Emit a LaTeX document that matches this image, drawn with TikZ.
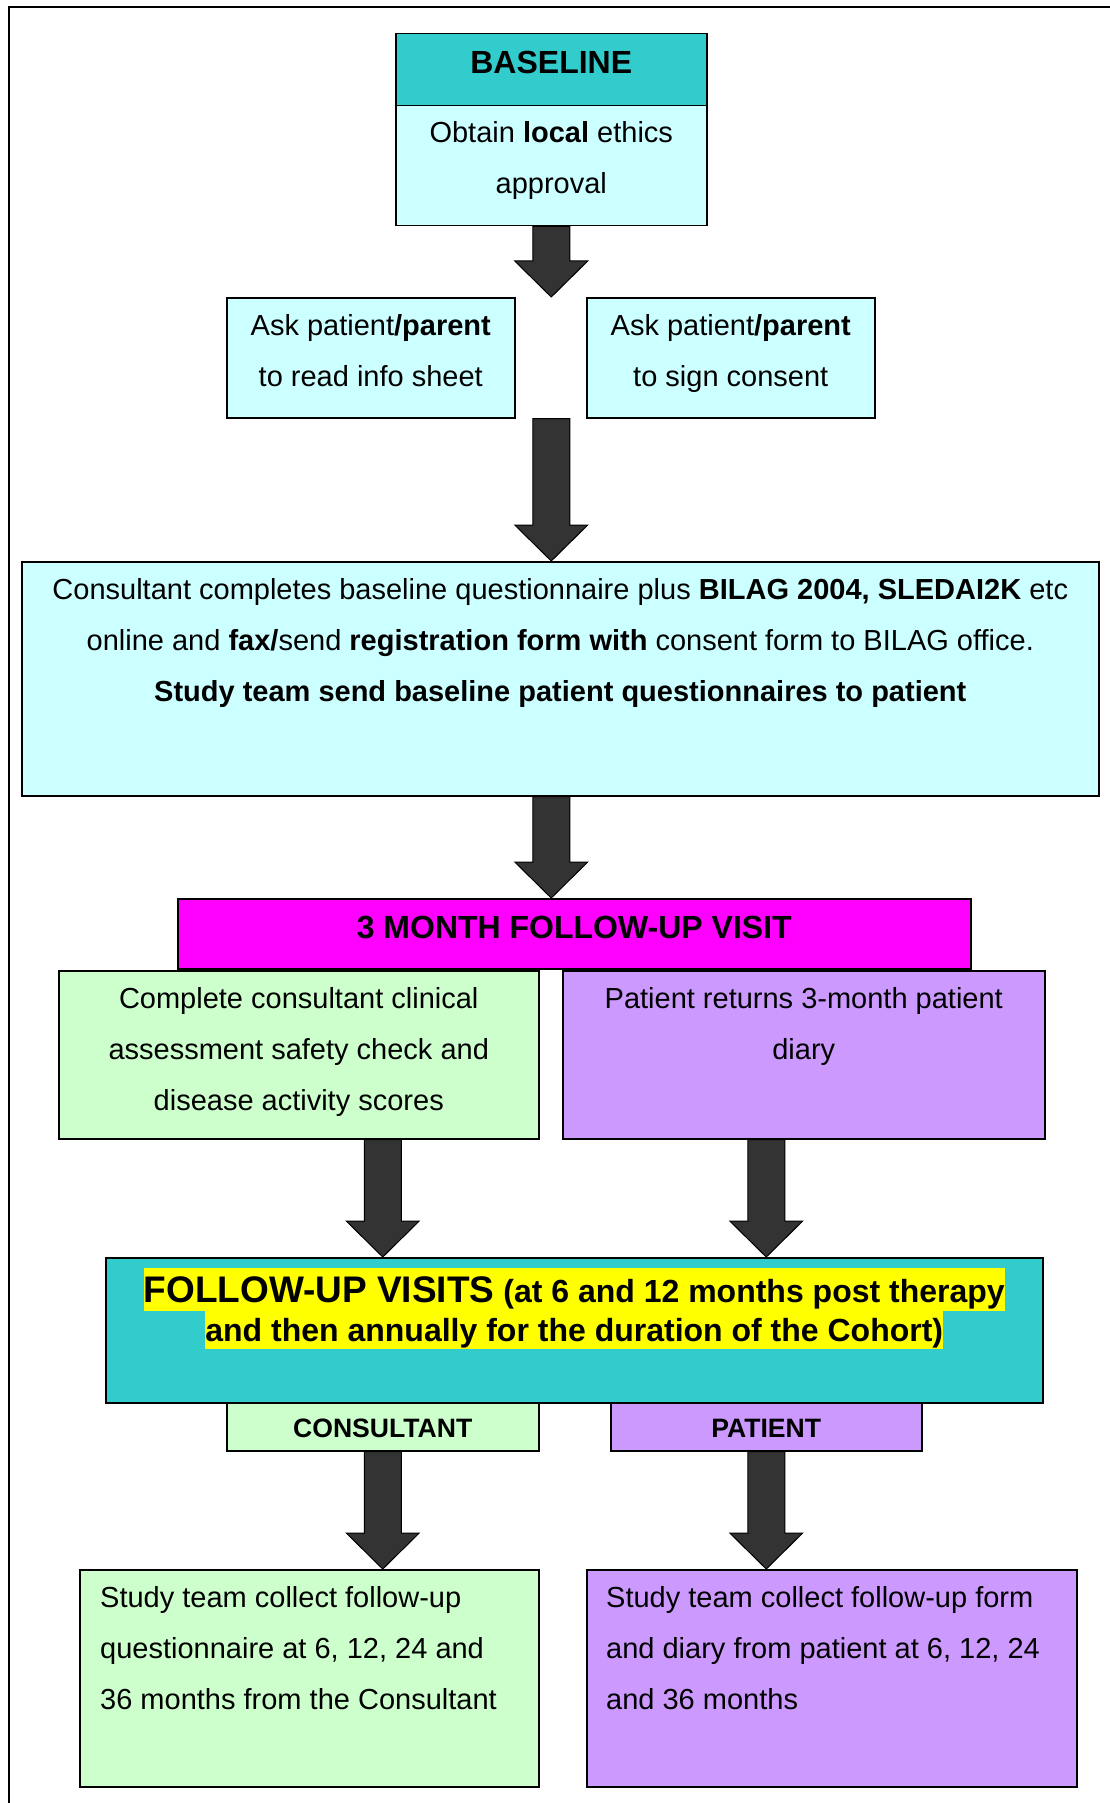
\documentclass[tikz,border=0pt]{standalone}
\usepackage{fontspec}
\setmainfont{Liberation Sans}
\usepackage{xcolor}
\usepackage{tikz}
\usetikzlibrary{calc}
\definecolor{tealx}{HTML}{33CCCC}
\definecolor{cyanl}{HTML}{CCFFFF}
\definecolor{magx}{HTML}{FF00FF}
\definecolor{greenl}{HTML}{CCFFCC}
\definecolor{violetl}{HTML}{CC99FF}
\definecolor{yellowx}{HTML}{FFFF00}
\definecolor{arrowgray}{HTML}{333333}
\tikzset{
  frame/.style={draw=black,line width=2pt},
  box/.style={draw=black,line width=1.5pt,inner sep=0pt,anchor=north west},
  txt/.style={inner sep=0pt,anchor=base,align=center,font=\fontsize{29}{51}\selectfont},
  txtl/.style={txt,anchor=base west,align=left},
  head/.style={inner sep=0pt,anchor=base,font=\bfseries\fontsize{32}{38}\selectfont},
  subhead/.style={inner sep=0pt,anchor=base,font=\bfseries\fontsize{26.6}{30}\selectfont},
  hilite/.style={fill=yellowx,inner sep=0pt,anchor=base,font=\bfseries\fontsize{32}{40}\selectfont},
  fatar/.style={fill=arrowgray,draw=black,line width=1pt}
}
% block arrow: straight down from #1 to the height of #2
\newcommand{\fatarrow}[2]{%
  \draw[fatar] let \p1=(#1), \p2=(#2) in
    (\x1-18.5pt,\y1) -- (\x1-18.5pt,\y2+36pt) -- (\x1-36.5pt,\y2+36pt) -- (\x1,\y2)
    -- (\x1+36.5pt,\y2+36pt) -- (\x1+18.5pt,\y2+36pt) -- (\x1+18.5pt,\y1) -- cycle;}

\begin{document}
\begin{tikzpicture}[x=1pt,y=-1pt]
\useasboundingbox (0,0) rectangle (1110,1803);
\draw[frame] (8.5,1803) -- (8.5,7) -- (1110,7);

% baseline
\node[box,fill=tealx,minimum width=311pt,minimum height=72pt] (basehead) at (395,33) {};
\node[box,fill=cyanl,minimum width=311pt,minimum height=120pt] (basebody) at (395,105) {};
\node[head] (baset) at (basehead.center |- 0,74) {BASELINE};
\node[txt] (basebodyt) at (basebody.center |- 0,194) {Obtain \textbf{local} ethics\\approval};

\node[box,fill=cyanl,minimum width=288pt,minimum height=120pt] (askl) at (226,297) {};
\node[box,fill=cyanl,minimum width=288pt,minimum height=120pt] (askr) at (586,297) {};
\node[txt] (asklt) at (askl.center |- 0,386) {Ask patient\textbf{/parent}\\to read info sheet};
\node[txt] (askrt) at (askr.center |- 0,386) {Ask patient\textbf{/parent}\\to sign consent};

\node[box,fill=cyanl,minimum width=1077pt,minimum height=234pt] (big) at (21,561) {};
\node[txt] (bigt) at (big.center |- 0,701) {Consultant completes baseline questionnaire plus \textbf{BILAG 2004, SLEDAI2K} etc\\
  online and \textbf{fax/}send \textbf{registration form with} consent form to BILAG office.\\
  \textbf{Study team send baseline patient questionnaires to patient}};

% 3 month visit
\node[box,fill=magx,minimum width=793pt,minimum height=70pt] (mag) at (177,898) {};
\node[head] (magt) at (mag.center |- 0,938) {3 MONTH FOLLOW-UP VISIT};
\node[box,fill=greenl,minimum width=480pt,minimum height=168pt] (green) at (58,970) {};
\node[box,fill=violetl,minimum width=482pt,minimum height=168pt] (purp) at (562,970) {};
\node[txt] (greent) at (green.center |- 0,1110) {Complete consultant clinical\\assessment safety check and\\disease activity scores};
\node[txt] (purpt) at (purp.center |- 0,1059) {Patient returns 3-month patient\\diary};

\fatarrow{basebody.south}{askl.north}
\fatarrow{basebody.south |- askl.south}{big.north}
\fatarrow{basebody.south |- big.south}{mag.north}

% follow-up visits
\node[box,fill=tealx,minimum width=937pt,minimum height=145pt] (fu) at (105,1257) {};
\node[hilite,text height=34pt,text depth=9pt] (fua) at (fu.center |- 0,1302) {{\fontsize{37}{40}\selectfont FOLLOW-UP VISITS} (at 6 and 12 months post therapy};
\node[hilite,text height=30pt,text depth=8pt] (fub) at (fu.center |- 0,1341) {and then annually for the duration of the Cohort)};
\node[box,fill=greenl,minimum width=312pt,minimum height=48pt] (cons) at (226,1402) {};
\node[box,fill=violetl,minimum width=311pt,minimum height=48pt] (pat) at (610,1402) {};
\node[subhead] (const) at (cons.center |- 0,1437) {CONSULTANT};
\node[subhead] (patt) at (pat.center |- 0,1437) {PATIENT};

\fatarrow{cons.north |- green.south}{fu.north}
\fatarrow{pat.north |- purp.south}{fu.north}

\node[box,fill=greenl,minimum width=459pt,minimum height=217pt] (resl) at (79,1569) {};
\node[box,fill=violetl,minimum width=490pt,minimum height=217pt] (resr) at (586,1569) {};
\node[txtl] (reslt) at (100,1709) {Study team collect follow-up\\questionnaire at 6, 12, 24 and\\36 months from the Consultant};
\node[txtl] (resrt) at (606,1709) {Study team collect follow-up form\\and diary from patient at 6, 12, 24\\and 36 months};

\fatarrow{cons.south}{resl.north}
\fatarrow{pat.south}{resr.north}
\end{tikzpicture}
\end{document}
